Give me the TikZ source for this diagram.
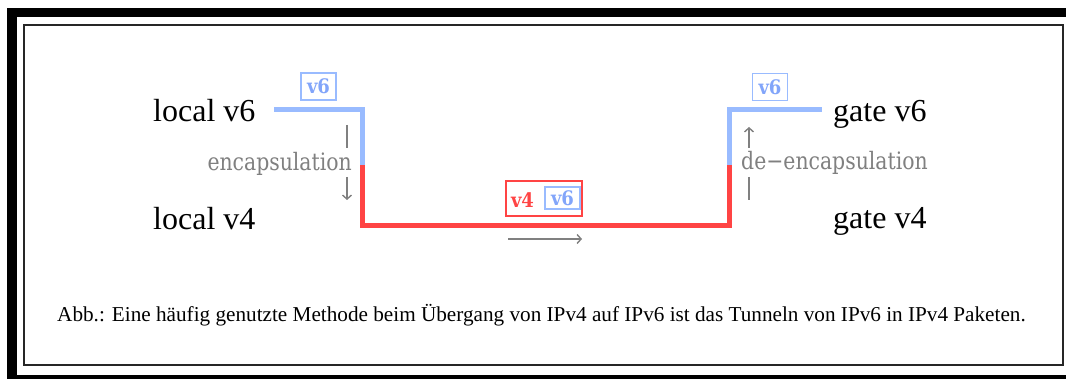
\documentclass[tikz,border=0pt]{standalone}
\usepackage{fontspec}
\setmainfont{Liberation Serif}
\newfontfamily\notefont[FakeStretch=0.85]{DejaVu Serif}
\newfontfamily\tagfont[FakeStretch=0.9]{DejaVu Serif}
\usetikzlibrary{arrows.meta}
\definecolor{tunnelblue}{RGB}{153,187,255}
\definecolor{tunnelred}{RGB}{255,68,68}
\definecolor{tagblue}{RGB}{130,165,250}
\definecolor{notegray}{RGB}{128,128,128}
\tikzset{
	>={Straight Barb[length=4pt,width=9pt]}
}

\begin{document}
\begin{tikzpicture}[
x = 1pt, y = -1pt,
every node/.style = {
	inner sep = 0pt
},
host/.style = {
	font = \fontsize{32}{32}\selectfont,
	anchor = base west
},
note/.style = {
	font = \notefont\fontsize{24}{24}\selectfont,
	text = notegray
},
notearrow/.style = {
	notegray,
	line width = 1.4pt
},
tag/.style = {
	draw,
	line width = 1.1pt,
	font = \tagfont\bfseries\fontsize{20}{20}\selectfont,
	align = center
},
v6tag/.style = {
	tag,
	tunnelblue,
	text = tagblue
},
v4tag/.style = {
	tag,
	tunnelred
},
v6line/.style = {
	tunnelblue,
	line width = 5.5pt
},
v4line/.style = {
	tunnelred,
	line width = 5.5pt
}
]

\useasboundingbox (0,0) rectangle (1066,379);
\fill[white] (0,0) rectangle (1066,379);
\fill[black] (7,8) rectangle (1066,379);
\fill[white] (17,17) rectangle (1066,375);
\draw[line width = 1.8pt, black!85] (24,25) rectangle (1063,365);

\node [host] (localv6) at (153,122) {local v6};
\node [host] (localv4) at (153,230) {local v4};
\node [host] (gatev6) at (833,122) {gate v6};
\node [host] (gatev4) at (833,229) {gate v4};

\coordinate (inL) at (274,109.5);
\coordinate (dropL) at (362.5,109.5);
\coordinate (splitL) at (362.5,165);
\coordinate (botL) at (362.5,225.5);
\coordinate (botR) at (729.5,225.5);
\coordinate (splitR) at (729.5,165);
\coordinate (riseR) at (729.5,109.5);
\coordinate (outR) at (822,109.5);

\draw[v4line] (splitL) -- (botL) -- (botR) -- (splitR);
\draw[v6line] (inL) -- (dropL) -- (splitL);
\draw[v6line] (splitR) -- (riseR) -- (outR);

\node [v6tag, minimum width = 35pt, minimum height = 27pt] (tagL) at (318.5,86.5) {v6};
\node [v6tag, minimum width = 35pt, minimum height = 27pt] (tagR) at (770,87) {v6};

\node [v4tag, minimum width = 76pt, minimum height = 35pt] (tagM) at (544,198.5) {};
\node [tag, draw = none, text = tunnelred] (tagMv4) at (522.5,200) {v4};
\node [v6tag, minimum width = 35pt, minimum height = 22pt] (tagMv6) at (562.5,198) {v6};

\node [note, anchor = base east] (enc) at (352,171) {encapsulation};
\node [note, anchor = base west] (deenc) at (741,170) {de\textminus encapsulation};

\coordinate (encA) at (347,125);
\coordinate (encB) at (347,148);
\coordinate (encC) at (347,177);
\coordinate (encD) at (347,200);
\draw[notearrow] (encA) -- (encB);
\draw[notearrow, ->] (encC) -- (encD);

\coordinate (deencA) at (749,127);
\coordinate (deencB) at (749,148);
\coordinate (deencC) at (749,177);
\coordinate (deencD) at (749,200);
\draw[notearrow, ->] (deencB) -- (deencA);
\draw[notearrow] (deencC) -- (deencD);

\coordinate (flowA) at (508,239);
\coordinate (flowB) at (582,239);
\draw[notearrow, ->] (flowA) -- (flowB);

\node [anchor = base west, font = \fontsize{21.2}{21.2}\selectfont] (caption) at (57,322) {Abb.: Eine häufig genutzte Methode beim Übergang von IPv4 auf IPv6 ist das Tunneln von IPv6 in IPv4 Paketen.};

\end{tikzpicture}
\end{document}
